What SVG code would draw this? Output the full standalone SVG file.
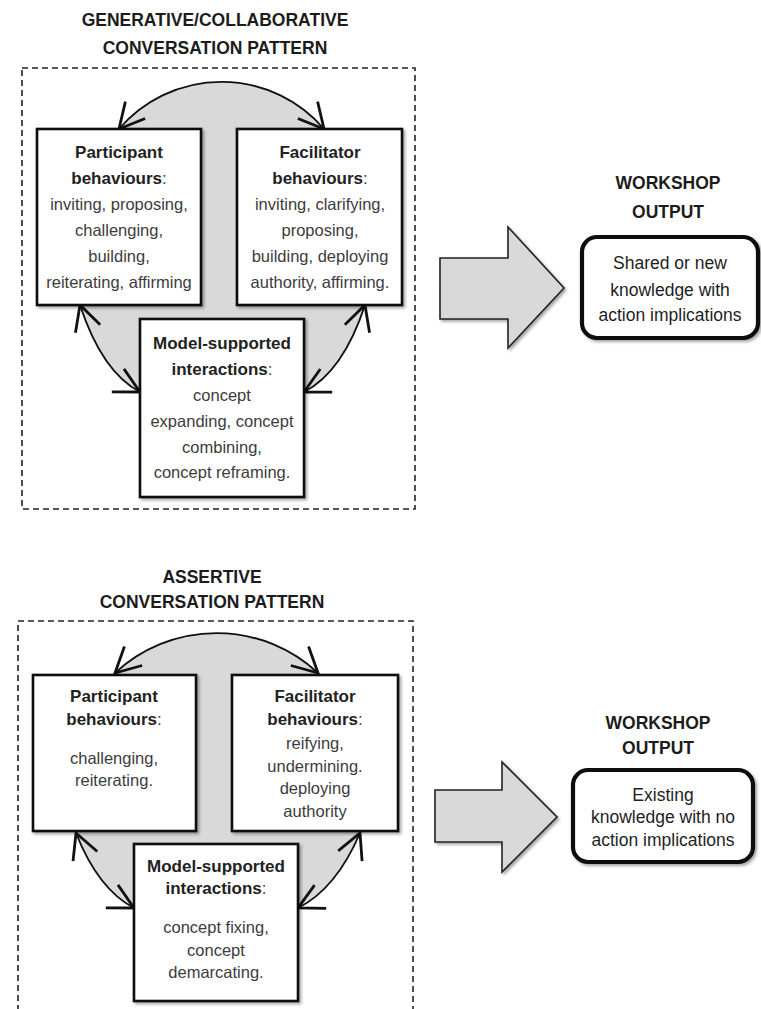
<svg xmlns="http://www.w3.org/2000/svg" width="761" height="1009" viewBox="0 0 761 1009">
  <defs>
    <filter id="shadow" x="-10%" y="-10%" width="125%" height="125%">
      <feDropShadow dx="2" dy="2" stdDeviation="1.6" flood-color="#000" flood-opacity="0.35"/>
    </filter>
    <marker id="vhead" markerUnits="userSpaceOnUse" orient="auto-start-reverse" refX="0" refY="0" markerWidth="40" markerHeight="40" viewBox="-30 -20 40 40" overflow="visible">
      <path d="M-25,-13 L0,0 L-25,13" fill="none" stroke="#111" stroke-width="2.8" stroke-linejoin="miter"/>
    </marker>
    <style>
      text { font-family: "Liberation Sans", Arial, sans-serif; text-anchor: middle; }
      .title { font-size: 17.5px; font-weight: bold; fill: #1c1c1c; }
      .head { font-size: 17px; font-weight: bold; fill: #222; }
      .body { font-size: 16.5px; fill: #3c3c3c; }
      .colon { font-weight: normal; fill: #444; }
      .out { font-size: 17.5px; fill: #1e1e1e; }
      .frame { fill: none; stroke: #222; stroke-width: 1.6; stroke-dasharray: 6 4; }
      .box { fill: #fff; stroke: #111; stroke-width: 2.6; filter: url(#shadow); }
      .obox { fill: #fff; stroke: #111; stroke-width: 4.2; filter: url(#shadow); }
      .blob { fill: #d9d9d9; stroke: none; }
      .arc { fill: none; stroke: #111; stroke-width: 1.9; marker-start: url(#vhead); marker-end: url(#vhead); }
      .bigarrow { fill: #d9d9d9; stroke: #222; stroke-width: 1.6; filter: url(#shadow); }
    </style>
  </defs>

  <rect width="761" height="1009" fill="#fff"/>

  <!-- ===== Upper pattern ===== -->
  <g id="title-generative">
    <text class="title" x="215" y="26">GENERATIVE/COLLABORATIVE</text>
    <text class="title" x="215" y="54">CONVERSATION PATTERN</text>
  </g>
  <rect class="frame" x="22" y="68" width="393" height="441"/>
  <path class="blob" d="M119,129 A135,135 0 0 1 324,129 L365,305 Q343,372 304,392 L140,392 Q102,372 80,305 Z"/>

  <g id="connectors-generative">
    <path class="arc" d="M119,129 A135,135 0 0 1 324,129"/>
    <path class="arc" d="M80,305 Q102,372 140,392"/>
    <path class="arc" d="M365,305 Q343,372 304,392"/>
  </g>

  <g id="participant-generative">
    <rect class="box" x="37" y="129" width="164" height="176"/>
    <text class="head" x="119" y="158">Participant</text>
    <text class="head" x="119" y="184">behaviours<tspan class="colon">:</tspan></text>
    <text class="body" x="119" y="210">inviting,  proposing,</text>
    <text class="body" x="119" y="236">challenging,</text>
    <text class="body" x="119" y="262">building,</text>
    <text class="body" x="119" y="288">reiterating, affirming</text>
  </g>

  <g id="facilitator-generative">
    <rect class="box" x="237" y="129" width="165" height="176"/>
    <text class="head" x="320" y="158">Facilitator</text>
    <text class="head" x="320" y="184">behaviours<tspan class="colon">:</tspan></text>
    <text class="body" x="320" y="210">inviting, clarifying,</text>
    <text class="body" x="320" y="236">proposing,</text>
    <text class="body" x="320" y="262">building, deploying</text>
    <text class="body" x="320" y="288">authority, affirming.</text>
  </g>

  <g id="model-generative">
    <rect class="box" x="140" y="319" width="164" height="178"/>
    <text class="head" x="222" y="349">Model-supported</text>
    <text class="head" x="222" y="375">interactions<tspan class="colon">:</tspan></text>
    <text class="body" x="222" y="401">concept</text>
    <text class="body" x="222" y="427">expanding, concept</text>
    <text class="body" x="222" y="453">combining,</text>
    <text class="body" x="222" y="478">concept reframing.</text>
  </g>

  <g id="flow-generative">
    <path class="bigarrow" d="M440,258 L508,258 L508,227 L564,288 L508,348 L508,319 L440,319 Z"/>
  </g>

  <g id="output-generative">
    <text class="title" x="668" y="189">WORKSHOP</text>
    <text class="title" x="668" y="218">OUTPUT</text>
    <rect class="obox" x="582" y="237" width="176" height="101" rx="15" ry="15"/>
    <text class="out" x="670" y="269">Shared or new</text>
    <text class="out" x="670" y="296">knowledge with</text>
    <text class="out" x="670" y="321">action implications</text>
  </g>

  <!-- ===== Lower pattern ===== -->
  <g id="title-assertive">
    <text class="title" x="212" y="583">ASSERTIVE</text>
    <text class="title" x="212" y="608">CONVERSATION PATTERN</text>
  </g>
  <rect class="frame" x="18" y="621" width="395" height="420"/>
  <path class="blob" d="M115,673 A149,149 0 0 1 318,673 L360,833 Q336,889 298,908 L134,908 Q98,889 76,833 Z"/>

  <g id="connectors-assertive">
    <path class="arc" d="M115,673 A149,149 0 0 1 318,673"/>
    <path class="arc" d="M76,833 Q98,889 134,908"/>
    <path class="arc" d="M360,833 Q336,889 298,908"/>
  </g>

  <g id="participant-assertive">
    <rect class="box" x="33" y="675" width="163" height="156"/>
    <text class="head" x="114" y="702">Participant</text>
    <text class="head" x="114" y="725">behaviours<tspan class="colon">:</tspan></text>
    <text class="body" x="114" y="764">challenging,</text>
    <text class="body" x="114" y="786">reiterating.</text>
  </g>

  <g id="facilitator-assertive">
    <rect class="box" x="232" y="675" width="166" height="156"/>
    <text class="head" x="315" y="702">Facilitator</text>
    <text class="head" x="315" y="725">behaviours<tspan class="colon">:</tspan></text>
    <text class="body" x="315" y="749">reifying,</text>
    <text class="body" x="315" y="772">undermining.</text>
    <text class="body" x="315" y="794">deploying</text>
    <text class="body" x="315" y="817">authority</text>
  </g>

  <g id="model-assertive">
    <rect class="box" x="134" y="844" width="164" height="157"/>
    <text class="head" x="216" y="872">Model-supported</text>
    <text class="head" x="216" y="894">interactions<tspan class="colon">:</tspan></text>
    <text class="body" x="216" y="933">concept fixing,</text>
    <text class="body" x="216" y="956">concept</text>
    <text class="body" x="216" y="978">demarcating.</text>
  </g>

  <g id="flow-assertive">
    <path class="bigarrow" d="M435,790 L502,790 L502,762 L557,817 L502,872 L502,842 L435,842 Z"/>
  </g>

  <g id="output-assertive">
    <text class="title" x="658" y="729">WORKSHOP</text>
    <text class="title" x="658" y="754">OUTPUT</text>
    <rect class="obox" x="573" y="770" width="180" height="92" rx="15" ry="15"/>
    <text class="out" x="663" y="801">Existing</text>
    <text class="out" x="663" y="823">knowledge with no</text>
    <text class="out" x="663" y="846">action implications</text>
  </g>
</svg>
